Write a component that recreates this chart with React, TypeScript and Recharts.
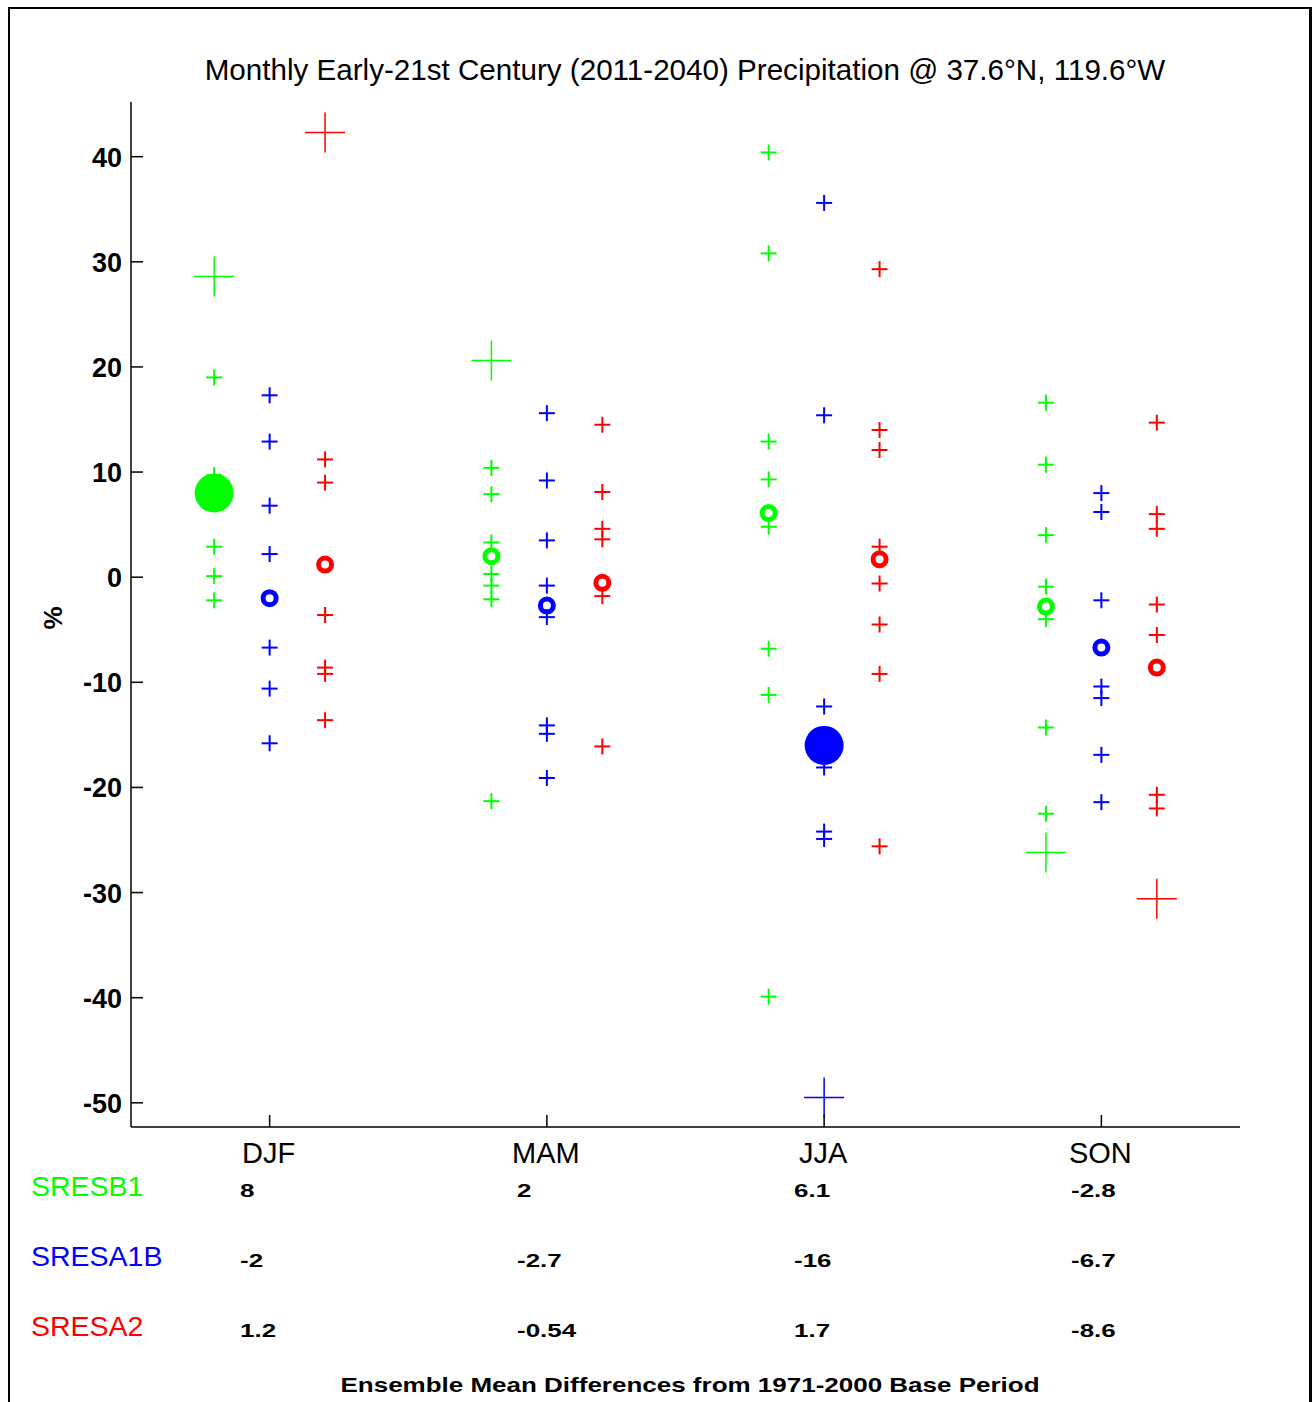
import React from 'react';
import { ScatterChart, Scatter, XAxis, YAxis } from 'recharts';

// seasons and scenario labels
const seasons = ['DJF', 'MAM', 'JJA', 'SON'];
const scenarioNames = ['SRESB1', 'SRESA1B', 'SRESA2'];

// individual model changes (%), one list per season
const b1Models: number[][] = [
  [19.0, 9.7, 2.9, 0.1, -2.2],
  [10.4, 7.9, 3.3, 0.3, -0.8, -2.1, -21.3],
  [40.4, 30.8, 12.9, 9.3, 4.8, -6.8, -11.2, -39.9],
  [16.6, 10.7, 4.0, -0.9, -4.0, -14.3, -22.5],
];
const a1bModels: number[][] = [
  [17.3, 12.9, 6.8, 2.2, -6.7, -10.6, -15.8],
  [15.6, 9.2, 3.5, -0.8, -3.8, -14.1, -14.9, -19.1],
  [35.6, 15.4, -12.3, -18.1, -24.2, -24.9],
  [8.0, 6.2, -2.2, -10.4, -11.5, -16.9, -21.4],
];
const a2Models: number[][] = [
  [11.2, 9.0, -3.6, -8.6, -9.2, -13.6],
  [14.5, 8.1, 4.6, 3.6, -1.8, -16.1],
  [29.3, 14.0, 12.1, 2.9, -0.6, -4.5, -9.2, -25.6],
  [14.7, 6.0, 4.6, -2.6, -5.5, -20.7, -22.0],
];

// large crosses (extreme members)
const b1Extremes: (number | null)[] = [28.6, 20.6, null, -26.2];
const a1bExtremes: (number | null)[] = [null, null, -49.5, null];
const a2Extremes: (number | null)[] = [42.3, null, null, -30.6];

// ensemble means
const b1Means = [8, 2, 6.1, -2.8];
const a1bMeans = [-2, -2.7, -16, -6.7];
const a2Means = [1.2, -0.54, 1.7, -8.6];

// filled dot = highlighted mean
const b1Filled = [true, false, false, false];
const a1bFilled = [false, false, true, false];
const a2Filled = [false, false, false, false];

const yTicks = [-50, -40, -30, -20, -10, 0, 10, 20, 30, 40];

const FONT = '"Liberation Sans", Arial, Helvetica, sans-serif';

const scenarios = [
  { name: scenarioNames[0], color: '#00ff00', offset: -0.2, models: b1Models, ext: b1Extremes, means: b1Means, filled: b1Filled },
  { name: scenarioNames[1], color: '#0000ff', offset: 0, models: a1bModels, ext: a1bExtremes, means: a1bMeans, filled: a1bFilled },
  { name: scenarioNames[2], color: '#ff0000', offset: 0.2, models: a2Models, ext: a2Extremes, means: a2Means, filled: a2Filled },
];

const modelPoints = (models: number[][], off: number) =>
  models.flatMap((vals, i) => vals.map((v) => ({ x: i + 1 + off, y: v })));

const extremePoints = (ext: (number | null)[], off: number) =>
  ext.flatMap((v, i) => (v === null ? [] : [{ x: i + 1 + off, y: v }]));

const meanPoints = (means: number[], filled: boolean[], off: number) =>
  means.map((v, i) => ({ x: i + 1 + off, y: v, filled: filled[i] }));

const plusShape = (color: string, half: number, sw: number) => (p: any) => (
  <g>
    <line x1={p.cx - half} x2={p.cx + half} y1={p.cy} y2={p.cy} stroke={color} strokeWidth={sw} />
    <line x1={p.cx} x2={p.cx} y1={p.cy - half} y2={p.cy + half} stroke={color} strokeWidth={sw} />
  </g>
);

const meanShape = (color: string) => (p: any) =>
  p.payload.filled ? (
    <circle cx={p.cx} cy={p.cy} r={19.5} fill={color} />
  ) : (
    <circle cx={p.cx} cy={p.cy} r={6.5} fill="none" stroke={color} strokeWidth={5} />
  );

const XTick = (p: any) => (
  <g>
    <line x1={p.x} x2={p.x} y1={p.y} y2={p.y - 12} stroke="#000" strokeWidth={1.5} />
    <text x={p.x - 1} y={p.y + 36} textAnchor="middle" fontSize={29} fontFamily={FONT} fill="#000">
      {seasons[p.payload.value - 1]}
    </text>
  </g>
);

const YTick = (p: any) => (
  <g>
    <line x1={p.x} x2={p.x + 12} y1={p.y} y2={p.y} stroke="#000" strokeWidth={1.5} />
    <text x={p.x - 9} y={p.y + 10} textAnchor="end" fontSize={27} fontWeight="bold" fontFamily={FONT} fill="#000">
      {p.payload.value}
    </text>
  </g>
);

const rowBaselines = [1196, 1266, 1336];

export default function App() {
  return (
    <div style={{ position: 'absolute', left: 0, top: 0, width: 1314, height: 1402, overflow: 'hidden', background: '#fff' }}>
      <div
        style={{
          position: 'absolute', left: 8, top: 7, width: 1304, height: 1440,
          borderStyle: 'solid', borderColor: '#000', borderWidth: '2px 3px 2px 2px', boxSizing: 'border-box',
        }}
      />
      <div style={{ position: 'absolute', left: 0, top: 0 }}>
        <ScatterChart width={1314} height={1200} margin={{ top: 102, right: 74, bottom: 13, left: 51 }}>
          <XAxis
            type="number" dataKey="x" domain={[0.5, 4.5]} ticks={[1, 2, 3, 4]} allowDataOverflow
            height={60} tickSize={0} tickMargin={0} tickLine={false}
            axisLine={{ stroke: '#000', strokeWidth: 1.5 }} tick={<XTick />}
          />
          <YAxis
            type="number" dataKey="y" domain={[-52.3, 45.2]} ticks={yTicks} allowDataOverflow
            width={80} tickSize={0} tickMargin={0} tickLine={false}
            axisLine={{ stroke: '#000', strokeWidth: 1.5 }} tick={<YTick />}
          />
          {scenarios.map((s) => (
            <Scatter key={s.name + 'm'} data={modelPoints(s.models, s.offset)} shape={plusShape(s.color, 8, 2)} isAnimationActive={false} />
          ))}
          {scenarios.map((s) => (
            <Scatter key={s.name + 'e'} data={extremePoints(s.ext, s.offset)} shape={plusShape(s.color, 20, 1.5)} isAnimationActive={false} />
          ))}
          {scenarios.map((s) => (
            <Scatter key={s.name + 'c'} data={meanPoints(s.means, s.filled, s.offset)} shape={meanShape(s.color)} isAnimationActive={false} />
          ))}
        </ScatterChart>
      </div>
      <svg width={1314} height={1402} style={{ position: 'absolute', left: 0, top: 0, pointerEvents: 'none' }}>
        <text x={685} y={80} textAnchor="middle" fontSize={29.6} fontFamily={FONT} fill="#000">
          Monthly Early-21st Century (2011-2040) Precipitation @ 37.6°N, 119.6°W
        </text>
        <text transform="translate(62,618) rotate(-90)" textAnchor="middle" fontSize={26} fontWeight="bold" fontFamily={FONT} fill="#000">
          %
        </text>
        {scenarios.map((s, r) => (
          <g key={s.name}>
            <text x={31} y={rowBaselines[r]} fontSize={28.5} fontFamily={FONT} fill={s.color}>
              {s.name}
            </text>
            {s.means.map((v, i) => (
              <text
                key={i}
                transform={`translate(${240 + i * 277},${rowBaselines[r] + 1}) scale(1,0.72)`}
                fontSize={26} fontWeight="bold" fontFamily={FONT} fill="#000"
              >
                {String(v)}
              </text>
            ))}
          </g>
        ))}
        <text transform="translate(690,1392) scale(1,0.8)" textAnchor="middle" fontSize={26} fontWeight="bold" fontFamily={FONT} fill="#000">
          Ensemble Mean Differences from 1971-2000 Base Period
        </text>
      </svg>
    </div>
  );
}
